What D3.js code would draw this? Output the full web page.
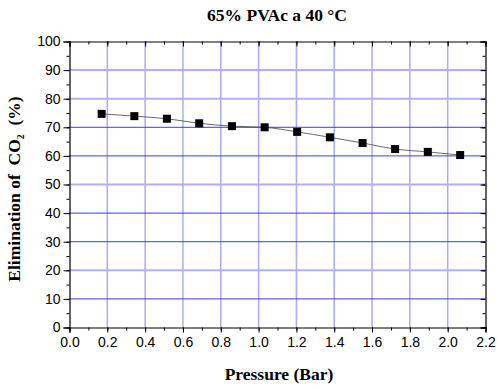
<!DOCTYPE html>
<html>
<head>
<meta charset="utf-8">
<script src="https://d3js.org/d3.v7.min.js"></script>
<style>
  body { margin: 0; background: #fff; }
  .tick text { font-family: "Liberation Sans", Arial, sans-serif; font-size: 14px; fill: #000; }
</style>
</head>
<body>
<div id="chart"></div>
<script>
// data
const pressure = [0.17, 0.343, 0.515, 0.686, 0.859, 1.032, 1.204, 1.377, 1.55, 1.722, 1.895, 2.066];
const elimination = [74.7, 73.9, 73.0, 71.4, 70.4, 70.0, 68.4, 66.5, 64.5, 62.4, 61.4, 60.3];
const xTicks = [0, 0.2, 0.4, 0.6, 0.8, 1.0, 1.2, 1.4, 1.6, 1.8, 2.0, 2.2];
const yTicks = [0, 10, 20, 30, 40, 50, 60, 70, 80, 90, 100];

const W = 500, H = 389;
const margin = {top: 41.5, right: 14.5, bottom: 61.5, left: 69.5};
const width = W - margin.left - margin.right,
      height = H - margin.top - margin.bottom;

const svg = d3.select("#chart").append("svg")
  .attr("width", W).attr("height", H);
const g = svg.append("g")
  .attr("transform", `translate(${margin.left},${margin.top})`);

const x = d3.scaleLinear().domain([0, 2.2]).range([0, width]);
const y = d3.scaleLinear().domain([0, 100]).range([height, 0]);

// grid lines
const darkRows = [10, 30, 40, 60, 70];
g.append("g").selectAll("line")
  .data(xTicks.slice(1, -1))
  .join("line")
    .attr("x1", d => x(d)).attr("x2", d => x(d))
    .attr("y1", 0).attr("y2", height)
    .attr("stroke", "#aaaaff").attr("stroke-width", 1.5);
g.append("g").selectAll("line")
  .data(yTicks.slice(1, -1))
  .join("line")
    .attr("x1", 0).attr("x2", width)
    .attr("y1", d => y(d)).attr("y2", d => y(d))
    .attr("stroke", d => darkRows.includes(d) ? "#3c3ce6" : "#b0b0ff")
    .attr("stroke-width", d => darkRows.includes(d) ? 1 : 2);

// axes
const fmtX = d3.format(".1f");
const xMinor = d3.range(0, 2.21, 0.1);
const yMinor = d3.range(0, 101, 5);

g.append("g")
  .attr("transform", `translate(0,${height})`)
  .call(d3.axisBottom(x).tickValues(xMinor).tickSize(3).tickFormat(""))
  .call(a => a.select(".domain").remove());
g.append("g")
  .attr("transform", `translate(0,${height})`)
  .call(d3.axisBottom(x).tickValues(xTicks).tickSize(5).tickPadding(5).tickFormat(fmtX));

g.append("g")
  .call(d3.axisLeft(y).tickValues(yMinor).tickSize(3).tickFormat(""))
  .call(a => a.select(".domain").remove());
g.append("g")
  .call(d3.axisLeft(y).tickValues(yTicks).tickSize(6).tickPadding(3));

// top and right axes with inside ticks
g.append("g")
  .call(d3.axisTop(x).tickValues(xMinor).tickSize(-3).tickFormat(""))
  .call(a => a.select(".domain").remove());
g.append("g")
  .call(d3.axisTop(x).tickValues(xTicks).tickSize(-5).tickFormat(""));
g.append("g")
  .attr("transform", `translate(${width},0)`)
  .call(d3.axisRight(y).tickValues(yMinor).tickSize(-3).tickFormat(""))
  .call(a => a.select(".domain").remove());
g.append("g")
  .attr("transform", `translate(${width},0)`)
  .call(d3.axisRight(y).tickValues(yTicks).tickSize(-5).tickFormat(""));

g.selectAll(".domain").attr("stroke", "#000").attr("stroke-width", 1.2);

// line + markers
const pts = pressure.map((p, i) => [p, elimination[i]]);
g.append("path")
  .datum(pts)
  .attr("fill", "none")
  .attr("stroke", "#444")
  .attr("stroke-width", 0.8)
  .attr("d", d3.line().x(d => x(d[0])).y(d => y(d[1])).curve(d3.curveMonotoneX));

g.append("g").selectAll("rect")
  .data(pts)
  .join("rect")
    .attr("x", d => x(d[0]) - 4)
    .attr("y", d => y(d[1]) - 4)
    .attr("width", 8).attr("height", 8)
    .attr("fill", "#000");

// titles
const serif = "'Liberation Serif', 'Times New Roman', serif";
svg.append("text")
  .attr("x", 277).attr("y", 20.5)
  .attr("text-anchor", "middle")
  .style("font-family", serif)
  .style("font-weight", "bold").style("font-size", "17.5px")
  .text("65% PVAc a 40 °C");

svg.append("text")
  .attr("x", 279).attr("y", 380)
  .attr("text-anchor", "middle")
  .style("font-family", serif)
  .style("font-weight", "bold").style("font-size", "17.5px")
  .text("Pressure (Bar)");

const yt = svg.append("text")
  .attr("transform", "translate(20,189) rotate(-90)")
  .attr("text-anchor", "middle")
  .style("white-space", "pre")
  .style("font-family", serif)
  .style("font-weight", "bold").style("font-size", "17.5px");
yt.append("tspan").text("Elimination of  CO");
yt.append("tspan").attr("dy", 4).style("font-size", "10px").text("2");
yt.append("tspan").attr("dy", -4).text("  (%)");
</script>
</body>
</html>
